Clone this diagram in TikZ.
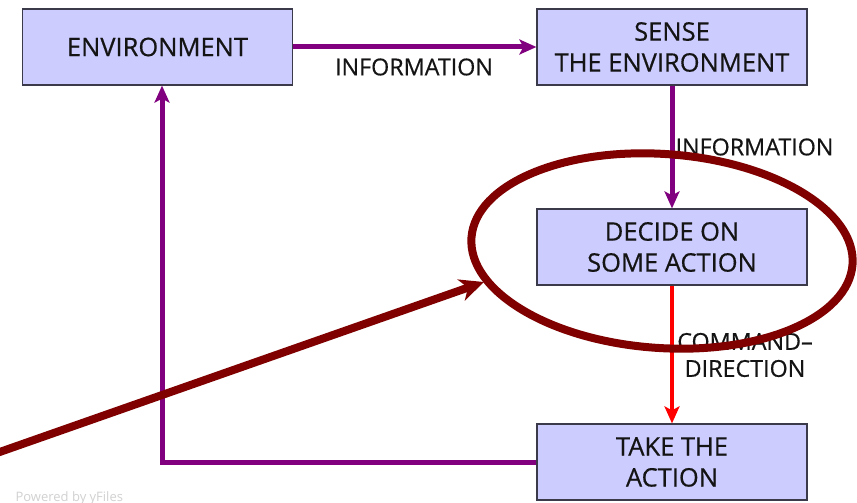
\documentclass[tikz,border=0pt]{standalone}
\usepackage{fontspec}
\setmainfont{Open Sans}
\newfontfamily\diagfont{Open Sans}[FakeBold=0.5]
\usetikzlibrary{arrows.meta}
\definecolor{boxfill}{HTML}{CCCCFF}
\definecolor{boxline}{HTML}{3A3A4A}
\definecolor{flowpurple}{HTML}{800080}
\definecolor{flowred}{HTML}{FF0000}
\definecolor{markred}{HTML}{800000}
\tikzset{
  stagebox/.style={draw=boxline, line width=1.2pt, fill=boxfill, rectangle,
    minimum width=270pt, minimum height=76pt, align=center,
    font=\diagfont\fontsize{25.5}{31}\selectfont, text=black!92},
  flow/.style={draw=flowpurple, line width=5pt,
    -{Stealth[length=17pt,width=15pt,inset=4pt]}},
  cmdflow/.style={draw=flowred, line width=4pt,
    -{Stealth[length=17pt,width=15pt,inset=4pt]}},
  edgelabel/.style={font=\diagfont\fontsize{23.3}{30}\selectfont, text=black!92, align=center},
  markup/.style={draw=markred, line width=8pt}
}
\begin{document}
\begin{tikzpicture}[x=1pt, y=-1pt]
  \useasboundingbox[fill=white] (0,0) rectangle (857,503);

  % process stages
  \node[stagebox] (env)    at (157.5,47) {ENVIRONMENT};
  \node[stagebox] (sense)  at (672,47)   {SENSE\\THE ENVIRONMENT};
  \node[stagebox] (decide) at (672,247)  {DECIDE ON\\SOME ACTION};
  \node[stagebox] (take)   at (672,462)  {TAKE THE\\ACTION};

  % flows between stages
  \draw[flow] (env.east) -- (sense.west);
  \draw[flow] (sense.south) -- (decide.north);
  \draw[cmdflow] (decide.south) -- (take.north);
  \draw[flow] (take.west) -| ([xshift=4.5pt]env.south);

  % flow labels
  \node[edgelabel] (lbl1) at (414,67) {INFORMATION};
  \node[edgelabel, anchor=west] (lbl2) at (672,147) {INFORMATION};
  \node[edgelabel] (lbl3) at (745,355) {COMMAND–\\[-3pt]DIRECTION};

  % highlight round the decision stage
  \draw[markup, rotate around={-4:(662,251)}] (662,251) ellipse [x radius=191, y radius=97];

  % pointer to the highlight
  \coordinate (ptrstart) at (-6,454);
  \coordinate (ptrtip) at (484,282);
  \draw[markup, -{Stealth[length=24pt,width=22pt,inset=7pt]}] (ptrstart) -- (ptrtip);

  % faint credit line
  \node[anchor=west, text=black!18, font=\fontsize{13}{15}\selectfont] (credit) at (12,498) {Powered by yFiles};
\end{tikzpicture}
\end{document}
